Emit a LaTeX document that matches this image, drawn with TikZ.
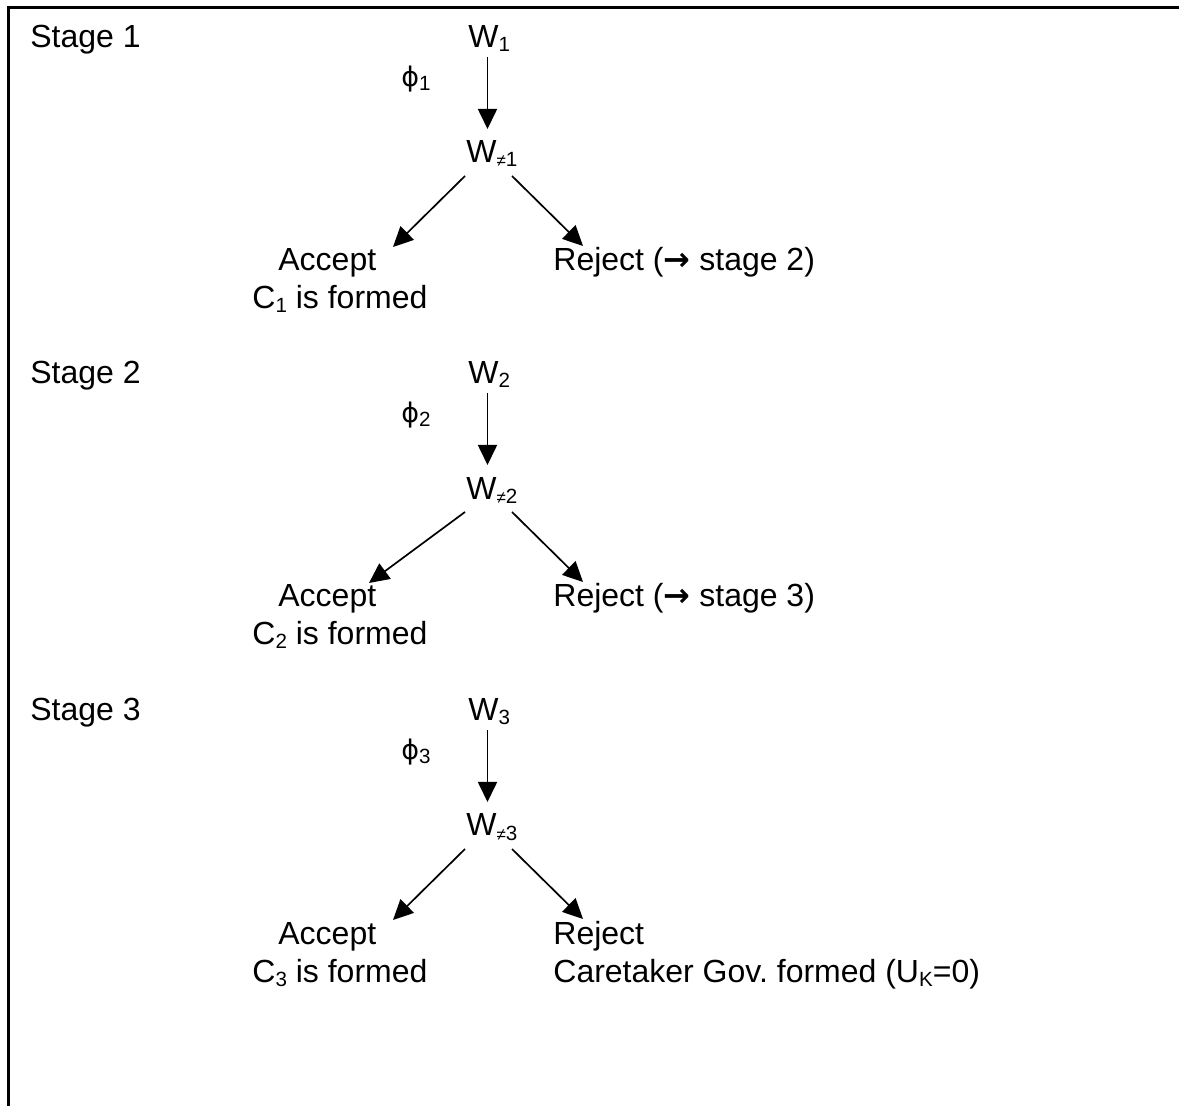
\documentclass[tikz,border=0pt]{standalone}
\usepackage{fontspec}
\setmainfont{Liberation Sans}
\newfontfamily\symfont{DejaVu Sans}
\usetikzlibrary{arrows.meta}
\frenchspacing
\newcommand\mysub[1]{\raisebox{-2pt}{\fontsize{10.3}{12}\selectfont #1}}
\newcommand\myphi{{\symfont\fontsize{13.5}{15}\selectfont ϕ}}
\newcommand\myne{{\fontsize{8.5}{10}\selectfont ≠}}
\newcommand\myarrow{{\symfont\bfseries →}}
\begin{document}
\begin{tikzpicture}[x=0.5pt,y=-0.5pt,
  lbl/.style={anchor=base west,inner sep=0pt,font=\fontsize{16}{19}\selectfont},
  arr/.style={line width=0.85pt,-{Triangle[length=10pt,width=9.5pt]}}]
\useasboundingbox (0,0) rectangle (1179,1106);
\draw[line width=1.15pt] (8.5,1106) -- (8.5,7.5) -- (1179,7.5);

% ---------- Stage 1 ----------
\begin{scope}
\node[lbl] (st1) at (30,48) {Stage 1};
\node[lbl] (w1) at (468,48) {W\mysub{1}};
\node[lbl] (phi1) at (401,87) {\myphi\mysub{1}};
\node[lbl] (wn1) at (466,163) {W\mysub{\myne1}};
\node[lbl] (acc1) at (278,271) {Accept};
\node[lbl] (c1) at (252,309) {C\mysub{1} is formed};
\node[lbl] (rej1) at (553,271) {Reject (\myarrow\ stage 2)};
\coordinate (v1a) at (487.5,57); \coordinate (v1b) at (487.5,129);
\coordinate (l1a) at (465,176); \coordinate (l1b) at (393,247);
\coordinate (r1a) at (512,176); \coordinate (r1b) at (583,246);
\draw[arr] (v1a) -- (v1b);
\draw[arr] (l1a) -- (l1b);
\draw[arr] (r1a) -- (r1b);
\end{scope}

% ---------- Stage 2 ----------
\begin{scope}[shift={(0,336)}]
\node[lbl] (st2) at (30,48) {Stage 2};
\node[lbl] (w2) at (468,48) {W\mysub{2}};
\node[lbl] (phi2) at (401,87) {\myphi\mysub{2}};
\node[lbl] (wn2) at (466,164) {W\mysub{\myne2}};
\node[lbl] (acc2) at (278,271) {Accept};
\node[lbl] (c2) at (252,309) {C\mysub{2} is formed};
\node[lbl] (rej2) at (553,271) {Reject (\myarrow\ stage 3)};
\coordinate (v2a) at (487.5,57); \coordinate (v2b) at (487.5,129);
\coordinate (l2a) at (465,176); \coordinate (l2b) at (369,247);
\coordinate (r2a) at (512,176); \coordinate (r2b) at (583,246);
\draw[arr] (v2a) -- (v2b);
\draw[arr] (l2a) -- (l2b);
\draw[arr] (r2a) -- (r2b);
\end{scope}

% ---------- Stage 3 ----------
\begin{scope}[shift={(0,673)}]
\node[lbl] (st3) at (30,48) {Stage 3};
\node[lbl] (w3) at (468,48) {W\mysub{3}};
\node[lbl] (phi3) at (401,87) {\myphi\mysub{3}};
\node[lbl] (wn3) at (466,163) {W\mysub{\myne3}};
\node[lbl] (acc3) at (278,271) {Accept};
\node[lbl] (c3) at (252,309) {C\mysub{3} is formed};
\node[lbl] (rej3) at (553,271) {Reject};
\node[lbl] (care3) at (553,309) {Caretaker Gov. formed (U\mysub{K}=0)};
\coordinate (v3a) at (487.5,57); \coordinate (v3b) at (487.5,129);
\coordinate (l3a) at (465,176); \coordinate (l3b) at (393,247);
\coordinate (r3a) at (512,176); \coordinate (r3b) at (583,246);
\draw[arr] (v3a) -- (v3b);
\draw[arr] (l3a) -- (l3b);
\draw[arr] (r3a) -- (r3b);
\end{scope}
\end{tikzpicture}
\end{document}
